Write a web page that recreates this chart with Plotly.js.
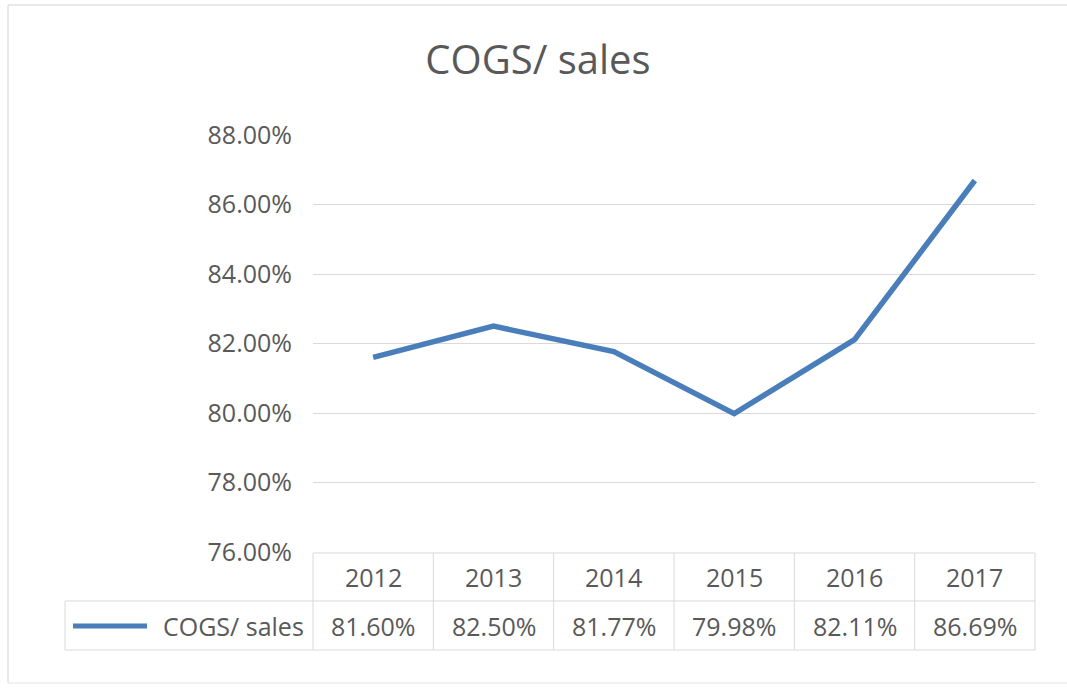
<!DOCTYPE html>
<html>
<head>
<meta charset="utf-8">
<script src="https://cdn.plot.ly/plotly-3.0.1.min.js"></script>
<style>html,body{margin:0;padding:0;background:#fff;}#chart{width:1067px;height:688px;}</style>
</head>
<body>
<div id="chart"></div>
<script>
// ---- data ----
var years = ['2012', '2013', '2014', '2015', '2016', '2017'];
var cogsSales = [81.60, 82.50, 81.77, 79.98, 82.11, 86.69];
var seriesName = 'COGS/ sales';
var chartTitle = 'COGS/ sales';

// ---- layout geometry (pixels) ----
var W = 1067, H = 688;
var L = 313, R = 1035, T = 135, B = 552;
function px(x) { return (x - L) / (R - L); }
function py(y) { return (B - y) / (B - T); }

var gridCol = '#d9d9d9';
var textCol = '#595959';
var lineCol = '#4a7ebb';
var font = 'Open Sans, Noto Sans, sans-serif';

var rowHeadTop = 553, rowMid = 601, rowBot = 650, legLeft = 65;

var shapes = [];
function hline(x0, x1, y, col) {
  shapes.push({type: 'line', xref: 'paper', yref: 'paper', x0: px(x0), x1: px(x1), y0: py(y), y1: py(y), line: {color: col || gridCol, width: 1}});
}
function vline(x, y0, y1, col) {
  shapes.push({type: 'line', xref: 'paper', yref: 'paper', x0: px(x), x1: px(x), y0: py(y0), y1: py(y1), line: {color: col || gridCol, width: 1}});
}
// outer chart border (left, top, bottom)
hline(8, 1067, 5, '#d4d4d4');
vline(8, 5, 683, '#d4d4d4');
hline(8, 1067, 683, '#e4e4e4');
// data table grid
hline(L, R, rowHeadTop);
hline(legLeft, R, rowMid);
hline(legLeft, R, rowBot);
for (var k = 0; k <= years.length; k++) {
  vline(L + k * (R - L) / years.length, rowHeadTop, rowBot);
}
vline(legLeft, rowMid, rowBot);
// legend key line in table
shapes.push({type: 'line', xref: 'paper', yref: 'paper', x0: px(73), x1: px(147), y0: py(626), y1: py(626), line: {color: lineCol, width: 5}});

var annotations = [];
years.forEach(function (yr, i) {
  var cx = (i + 0.5) / years.length;
  annotations.push({xref: 'paper', yref: 'paper', x: cx, y: py((rowHeadTop + rowMid) / 2), text: yr, showarrow: false,
    xanchor: 'center', yanchor: 'middle', font: {family: font, size: 25, color: textCol}});
  annotations.push({xref: 'paper', yref: 'paper', x: cx, y: py((rowMid + rowBot) / 2), text: cogsSales[i].toFixed(2) + '%', showarrow: false,
    xanchor: 'center', yanchor: 'middle', font: {family: font, size: 25, color: textCol}});
});
annotations.push({xref: 'paper', yref: 'paper', x: px(306), y: py((rowMid + rowBot) / 2), text: seriesName, showarrow: false,
  xanchor: 'right', yanchor: 'middle', font: {family: font, size: 25, color: textCol}});

var trace = {
  type: 'scatter', mode: 'lines', x: years, y: cogsSales, name: seriesName,
  line: {color: lineCol, width: 5.5, shape: 'linear'}, cliponaxis: false, hoverinfo: 'x+y'
};

var layout = {
  width: W, height: H,
  margin: {l: L, r: W - R, t: T, b: H - B, pad: 0},
  paper_bgcolor: '#ffffff', plot_bgcolor: '#ffffff',
  showlegend: false,
  title: {text: chartTitle, xref: 'container', yref: 'container', x: 538 / W, y: 1 - 60 / H,
    xanchor: 'center', yanchor: 'middle', font: {family: font, size: 40, color: textCol}},
  xaxis: {type: 'category', range: [-0.5, years.length - 0.5], showgrid: false, zeroline: false,
    showline: false, showticklabels: false, ticks: ''},
  yaxis: {range: [76, 88], dtick: 2, tick0: 76, showgrid: true, gridcolor: gridCol, gridwidth: 1,
    zeroline: false, showline: false, ticks: '', ticksuffix: '%', tickformat: '.2f',
    ticklabelstandoff: 20, tickfont: {family: font, size: 25, color: textCol}},
  shapes: shapes,
  annotations: annotations
};

Plotly.newPlot('chart', [trace], layout, {displayModeBar: false, staticPlot: true});
</script>
</body>
</html>
